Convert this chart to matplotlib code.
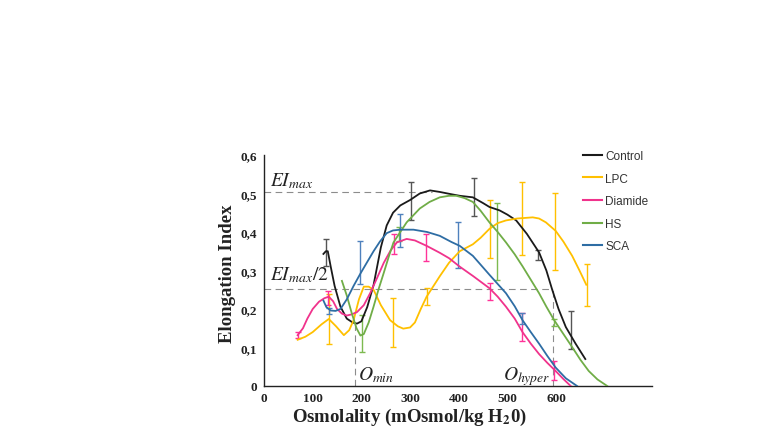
import matplotlib

matplotlib.use("Agg")
import matplotlib.pyplot as plt  # noqa: E402
import numpy as np
from matplotlib.lines import Line2D

plt.rcParams["mathtext.fontset"] = "stix"

# curve points (osmolality, elongation index)
control_x = [122, 127, 131, 137, 145, 157, 170, 182, 191, 200, 212, 225, 240, 252, 265, 280, 300,
             320, 341, 361, 385, 402, 429, 450, 463, 484, 500, 518, 540, 565, 580, 592, 605, 620, 640, 660]
control_y = [0.343, 0.35, 0.35, 0.31, 0.26, 0.206, 0.175, 0.165, 0.162, 0.168, 0.205, 0.262, 0.36, 0.417,
             0.45, 0.469, 0.483, 0.5, 0.508, 0.504, 0.498, 0.494, 0.49, 0.475, 0.465, 0.456, 0.445, 0.43,
             0.395, 0.347, 0.3, 0.25, 0.2, 0.153, 0.11, 0.07]

lpc_x = [69, 85, 100, 118, 133, 148, 164, 175, 184, 195, 205, 215, 225, 240, 259, 275, 286, 300, 310, 322,
         334, 361, 380, 402, 429, 445, 463, 480, 497, 520, 552, 565, 579, 599, 615, 633, 648, 662]
lpc_y = [0.12, 0.128, 0.14, 0.16, 0.174, 0.155, 0.132, 0.145, 0.171, 0.225, 0.258, 0.258, 0.25, 0.21, 0.171,
         0.155, 0.149, 0.152, 0.165, 0.2, 0.232, 0.285, 0.32, 0.35, 0.368, 0.385, 0.408, 0.423, 0.43, 0.435,
         0.438, 0.435, 0.425, 0.403, 0.375, 0.338, 0.3, 0.263]

diamide_x = [69, 80, 89, 100, 113, 124, 133, 142, 150, 160, 170, 180, 191, 205, 218, 232, 246, 260, 273, 293,
             310, 334, 361, 380, 402, 430, 463, 480, 497, 515, 531, 548, 565, 582, 599, 615, 630]
diamide_y = [0.132, 0.15, 0.175, 0.2, 0.219, 0.228, 0.232, 0.22, 0.2, 0.188, 0.183, 0.186, 0.192, 0.21, 0.241,
             0.28, 0.32, 0.352, 0.373, 0.382, 0.378, 0.364, 0.346, 0.332, 0.31, 0.285, 0.254, 0.232, 0.206,
             0.175, 0.14, 0.11, 0.083, 0.06, 0.039, 0.018, 0.0]

hs_x = [160, 170, 180, 190, 198, 205, 215, 225, 235, 246, 256, 266, 280, 293, 320, 340, 361, 380, 395, 412,
        429, 445, 463, 480, 497, 515, 531, 548, 565, 580, 596, 615, 633, 650, 667, 685, 705]
hs_y = [0.273, 0.235, 0.19, 0.15, 0.131, 0.135, 0.165, 0.206, 0.25, 0.294, 0.335, 0.373, 0.4, 0.425, 0.461,
        0.478, 0.49, 0.494, 0.494, 0.488, 0.478, 0.455, 0.425, 0.4, 0.373, 0.342, 0.311, 0.276, 0.241, 0.206,
        0.171, 0.135, 0.101, 0.068, 0.039, 0.017, 0.0]

sca_x = [122, 128, 137, 147, 157, 170, 184, 198, 211, 225, 238, 252, 265, 280, 307, 335, 361, 385, 402, 429,
         445, 463, 480, 497, 515, 531, 548, 565, 582, 599, 620, 643]
sca_y = [0.222, 0.205, 0.196, 0.195, 0.2, 0.225, 0.26, 0.292, 0.32, 0.35, 0.375, 0.397, 0.404, 0.406, 0.406,
         0.4, 0.39, 0.374, 0.364, 0.338, 0.315, 0.289, 0.265, 0.241, 0.207, 0.171, 0.14, 0.11, 0.078, 0.048,
         0.02, 0.0]

# error bars: position, low, high
control_err_x = [128, 301, 431, 563, 631]
control_err_lo = [0.311, 0.43, 0.441, 0.327, 0.095]
control_err_hi = [0.381, 0.531, 0.539, 0.353, 0.195]

lpc_err_x = [133, 265, 334, 465, 530, 597, 664]
lpc_err_lo = [0.11, 0.101, 0.211, 0.332, 0.339, 0.302, 0.209]
lpc_err_hi = [0.24, 0.228, 0.254, 0.482, 0.531, 0.502, 0.316]

diamide_err_x = [69, 132, 268, 333, 465, 530, 596]
diamide_err_lo = [0.125, 0.211, 0.342, 0.325, 0.224, 0.117, 0.015]
diamide_err_hi = [0.14, 0.246, 0.395, 0.395, 0.268, 0.19, 0.066]

hs_err_x = [201, 278, 478, 596]
hs_err_lo = [0.088, 0.377, 0.276, 0.156]
hs_err_hi = [0.185, 0.412, 0.475, 0.174]

sca_err_x = [133, 198, 280, 399, 530]
sca_err_lo = [0.188, 0.265, 0.36, 0.307, 0.162]
sca_err_hi = [0.202, 0.377, 0.447, 0.425, 0.19]

EI_MAX = 0.504
EI_HALF = 0.252
O_MIN = 187
O_HYPER = 593

SERIES = [
    ("Control", control_x, control_y, control_err_x, control_err_lo, control_err_hi, "#1a1a1a", "#555555"),
    ("LPC", lpc_x, lpc_y, lpc_err_x, lpc_err_lo, lpc_err_hi, "#FFC000", "#FFC000"),
    ("Diamide", diamide_x, diamide_y, diamide_err_x, diamide_err_lo, diamide_err_hi, "#F0338C", "#FF3399"),
    ("HS", hs_x, hs_y, hs_err_x, hs_err_lo, hs_err_hi, "#70AD47", "#7DBA50"),
    ("SCA", sca_x, sca_y, sca_err_x, sca_err_lo, sca_err_hi, "#2E6DA4", "#4F81BD"),
]

SERIF = "Liberation Serif"

fig = plt.figure(figsize=(7.6, 4.31), dpi=100, facecolor="white")
ax = fig.add_axes([0.3474, 0.1021, 0.5105, 0.536])

# dashed guide lines
guide = dict(color="#8c8c8c", linewidth=0.8, dashes=(6, 4))
ax.plot([0, 345], [EI_MAX, EI_MAX], **guide)
ax.plot([0, O_HYPER], [EI_HALF, EI_HALF], **guide)
ax.plot([O_MIN, O_MIN], [0, 0.165], **guide)
ax.plot([O_HYPER, O_HYPER], [0, EI_HALF], **guide)

handles = []
for name, x, y, ex, lo, hi, color, ecolor in SERIES:
    lo = np.array(lo)
    hi = np.array(hi)
    mid = (lo + hi) / 2
    ax.errorbar(ex, mid, yerr=(hi - lo) / 2, fmt="none", ecolor=ecolor, elinewidth=1.0,
                capsize=2.5, capthick=1.0, zorder=3)
    ax.plot(x, y, color=color, linewidth=1.3, zorder=4)
    handles.append(Line2D([], [], color=color, linewidth=1.5))

ax.legend(handles, [s[0] for s in SERIES], loc="upper left", bbox_to_anchor=(0.822, 1.022),
          frameon=False, handlelength=1.6, handletextpad=0.3, labelspacing=0.9,
          borderaxespad=0, borderpad=0, prop={"family": "Liberation Sans", "size": 8.5},
          labelcolor="#333333")

# annotations
ax.text(12, 0.522, r"$EI_{max}$", fontsize=14, color="#222222")
ax.text(12, 0.276, r"$EI_{max}/2$", fontsize=14, color="#222222")
ax.text(O_MIN + 6, 0.018, r"$O_{min}$", fontsize=14, color="#222222")
ax.text(491, 0.018, r"$O_{hyper}$", fontsize=14, color="#222222")

ax.set_xlim(0, 797)
ax.set_ylim(0, 0.6)
ax.set_xticks([0, 100, 200, 300, 400, 500, 600])
ax.set_yticks([0, 0.1, 0.2, 0.3, 0.4, 0.5, 0.6])
ax.set_yticklabels(["0", "0,1", "0,2", "0,3", "0,4", "0,5", "0,6"])
for lab in ax.get_xticklabels() + ax.get_yticklabels():
    lab.set_fontfamily(SERIF)
    lab.set_fontweight("bold")
    lab.set_fontsize(9.5)
    lab.set_color("#222222")
ax.tick_params(axis="both", length=0)
ax.tick_params(axis="y", pad=5)
ax.tick_params(axis="x", pad=4)

for side in ("top", "right"):
    ax.spines[side].set_visible(False)
for side in ("left", "bottom"):
    ax.spines[side].set_color("#222222")
    ax.spines[side].set_linewidth(1.0)

ax.set_xlabel(r"Osmolality (mOsmol/kg H$_\mathbf{2}$0)", fontfamily=SERIF, fontweight="bold",
              fontsize=13.5, color="#222222")
ax.set_ylabel("Elongation Index", fontfamily=SERIF, fontweight="bold", fontsize=13.5, color="#222222")
ax.xaxis.set_label_coords(0.376, -0.088)
ax.yaxis.set_label_coords(-0.072, 0.49)

fig.savefig("out.png", dpi=100, facecolor="white")
